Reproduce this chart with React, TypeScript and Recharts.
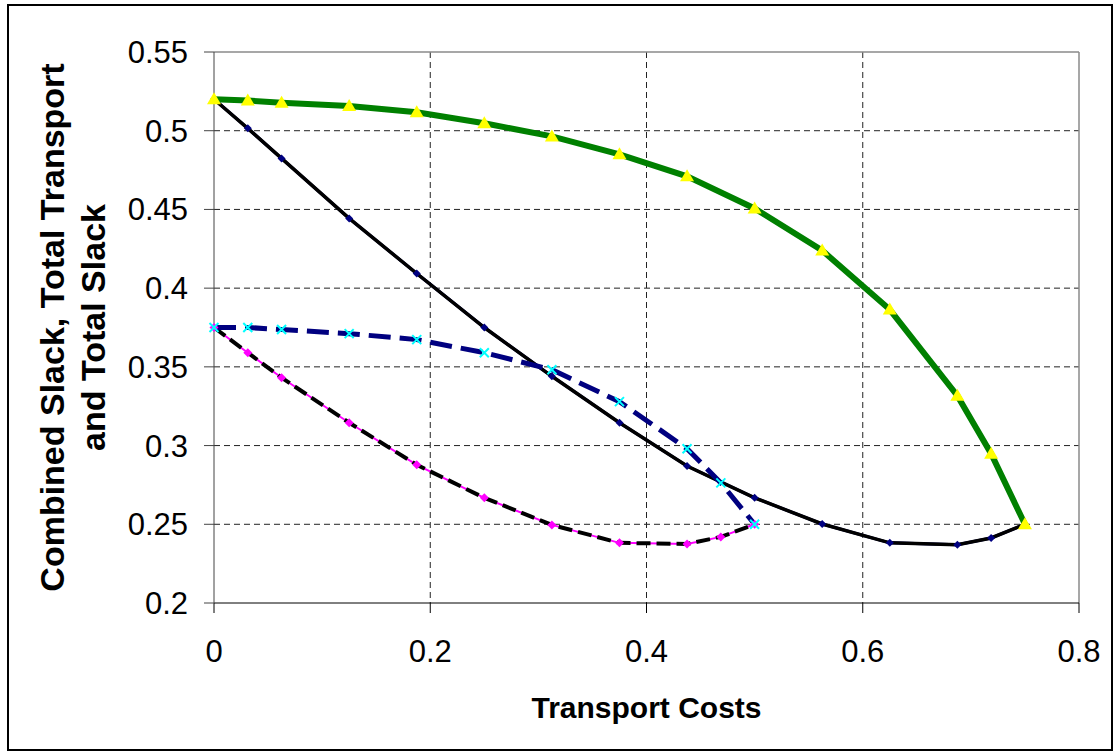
import { LineChart, Line, XAxis, YAxis, CartesianGrid, ReferenceLine } from 'recharts'

const FONT = '"Liberation Sans", Arial, sans-serif'

// transport cost steps
const fullSteps = [0, 0.03125, 0.0625, 0.125, 0.1875, 0.25, 0.3125, 0.375, 0.4375, 0.5, 0.5625, 0.625, 0.6875, 0.71875, 0.75]
const halfSteps = [0, 0.03125, 0.0625, 0.125, 0.1875, 0.25, 0.3125, 0.375, 0.4375, 0.46875, 0.5]

// series
const combinedSlack = [0.52, 0.5192, 0.5178, 0.5157, 0.5117, 0.5047, 0.4964, 0.485, 0.471, 0.4506, 0.4239, 0.3864, 0.3317, 0.2948, 0.25]
const totalTransport = [0.52, 0.5015, 0.4824, 0.4443, 0.4093, 0.375, 0.344, 0.3145, 0.287, 0.2668, 0.2502, 0.2382, 0.237, 0.2413, 0.25]
const dashedTransport = [0.375, 0.375, 0.3737, 0.3711, 0.3673, 0.359, 0.3482, 0.3279, 0.298, 0.2763, 0.25]
const totalSlack = [0.375, 0.359, 0.3431, 0.3145, 0.2878, 0.2668, 0.2496, 0.2382, 0.2375, 0.242, 0.25]

const xTicks = [0, 0.2, 0.4, 0.6, 0.8]
const yTicks = [0.2, 0.25, 0.3, 0.35, 0.4, 0.45, 0.5, 0.55]
const xGrid = [0.2, 0.4, 0.6]
const yGrid = [0.25, 0.3, 0.35, 0.4, 0.45, 0.5]

const toPoints = (xs: number[], ys: number[]) => xs.map((x, i) => ({ x, y: ys[i] }))

const greenData = toPoints(fullSteps, combinedSlack)
const blackData = toPoints(fullSteps, totalTransport)
const dashedData = toPoints(halfSteps, dashedTransport)
const magentaData = toPoints(halfSteps, totalSlack)

const Triangle = (p: any) => {
  const { cx, cy, index } = p
  if (cx == null || cy == null) return <g key={`tri-${index}`} />
  return <path key={`tri-${index}`} d={`M${cx},${cy - 7} L${cx + 7},${cy + 5} L${cx - 7},${cy + 5} Z`} fill="#ffff00" />
}

const makeDiamond = (color: string, r: number, tag: string) => (p: any) => {
  const { cx, cy, index } = p
  if (cx == null || cy == null) return <g key={`${tag}-${index}`} />
  return <path key={`${tag}-${index}`} d={`M${cx},${cy - r} L${cx + r},${cy} L${cx},${cy + r} L${cx - r},${cy} Z`} fill={color} />
}

const Cross = (p: any) => {
  const { cx, cy, index } = p
  if (cx == null || cy == null) return <g key={`x-${index}`} />
  return (
    <path
      key={`x-${index}`}
      d={`M${cx - 4.5},${cy - 4.5} L${cx + 4.5},${cy + 4.5} M${cx - 4.5},${cy + 4.5} L${cx + 4.5},${cy - 4.5}`}
      stroke="#00ffff"
      strokeWidth={2}
    />
  )
}

const XTitle = ({ viewBox }: any) => (
  <text x={viewBox.x + viewBox.width / 2} y={viewBox.y + 115} textAnchor="middle" fontFamily={FONT} fontWeight="bold" fontSize={30} fill="#000">
    Transport Costs
  </text>
)

const YTitle = ({ viewBox }: any) => {
  const cy = viewBox.y + viewBox.height / 2
  return (
    <g fontFamily={FONT} fontWeight="bold" fontSize={34} fill="#000">
      <text x={64} y={cy} textAnchor="middle" transform={`rotate(-90 64 ${cy})`}>Combined Slack, Total Transport</text>
      <text x={105} y={cy} textAnchor="middle" transform={`rotate(-90 105 ${cy})`}>and Total Slack</text>
    </g>
  )
}

export default function App() {
  return (
    <div style={{ position: 'absolute', left: 0, top: 0, width: 1120, height: 755, background: '#fff' }}>
      <div style={{ position: 'absolute', left: 7, top: 4, width: 1106, height: 747, border: '2px solid #000', boxSizing: 'border-box' }} />
      <div style={{ position: 'absolute', left: 0, top: 0 }}>
        <LineChart width={1120} height={755} margin={{ top: 52, right: 41, left: 0, bottom: 0 }}>
          <CartesianGrid stroke="#222" strokeDasharray="6 4" horizontalValues={yGrid} verticalValues={xGrid} />
          <ReferenceLine y={0.55} stroke="#8a8a8a" strokeWidth={1.5} />
          <ReferenceLine x={0.8} stroke="#8a8a8a" strokeWidth={1.5} />
          <XAxis
            dataKey="x"
            type="number"
            domain={[0, 0.8]}
            ticks={xTicks}
            height={152}
            tickSize={10}
            tickMargin={27}
            stroke="#000"
            tick={{ fill: '#000', fontSize: 31, fontFamily: FONT }}
            label={{ content: XTitle }}
          />
          <YAxis
            type="number"
            domain={[0.2, 0.55]}
            ticks={yTicks}
            width={214}
            tickSize={10}
            tickMargin={16}
            stroke="#444"
            tick={{ fill: '#000', fontSize: 31, fontFamily: FONT }}
            label={{ content: YTitle }}
          />
          <Line data={magentaData} dataKey="y" type="linear" stroke="#ff00ff" strokeWidth={2} dot={makeDiamond('#ff00ff', 4.5, 'md')} activeDot={false} isAnimationActive={false} />
          <Line data={magentaData} dataKey="y" type="linear" stroke="#000" strokeWidth={4} strokeDasharray="14 6" dot={false} activeDot={false} isAnimationActive={false} />
          <Line data={blackData} dataKey="y" type="linear" stroke="#000080" strokeWidth={3} dot={makeDiamond('#000080', 4, 'nd')} activeDot={false} isAnimationActive={false} />
          <Line data={blackData} dataKey="y" type="linear" stroke="#000" strokeWidth={3.5} dot={false} activeDot={false} isAnimationActive={false} />
          <Line data={dashedData} dataKey="y" type="linear" stroke="#000080" strokeWidth={5} strokeDasharray="22 9" dot={Cross} activeDot={false} isAnimationActive={false} />
          <Line data={greenData} dataKey="y" type="linear" stroke="#008000" strokeWidth={6} dot={Triangle} activeDot={false} isAnimationActive={false} />
        </LineChart>
      </div>
    </div>
  )
}
